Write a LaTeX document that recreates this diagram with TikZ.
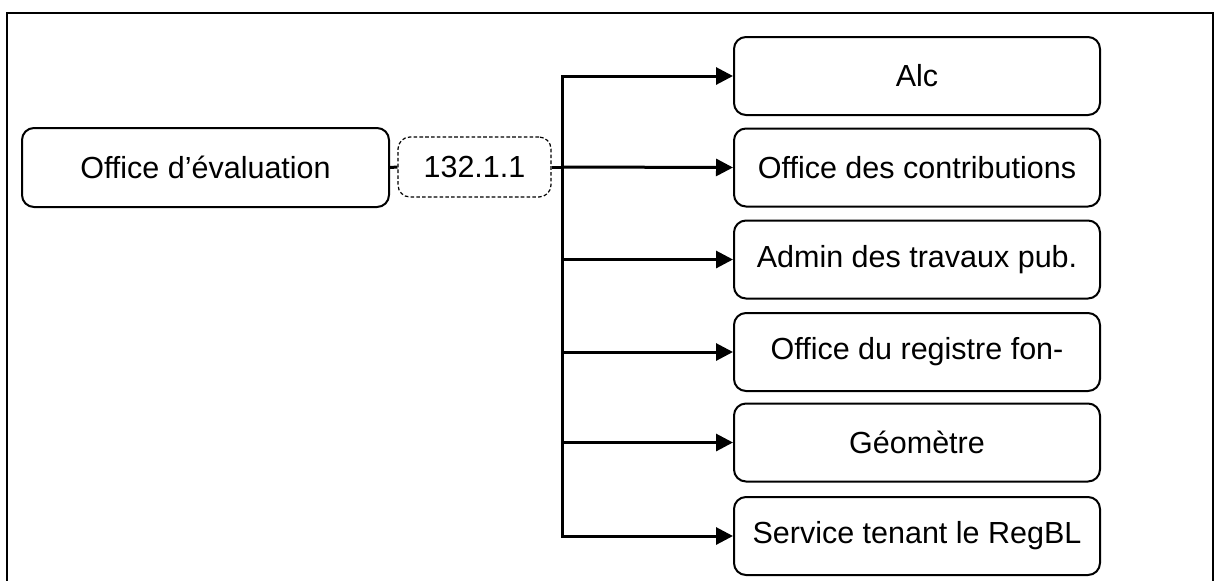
\documentclass[tikz,border=0pt]{standalone}
\usepackage{fontspec}
\setmainfont{Liberation Sans}
\usetikzlibrary{arrows.meta}
\tikzset{
  box/.style={draw, line width=1pt, rounded corners=6pt, minimum width=183pt,
    minimum height=39pt, inner sep=0pt, font=\fontsize{15.25}{18}\selectfont},
  numbox/.style={draw, line width=0.6pt, dash pattern=on 1.8pt off 1.1pt,
    rounded corners=6pt, minimum width=76.5pt, minimum height=30pt, inner sep=0pt,
    font=\fontsize{15.25}{18}\selectfont},
  link/.style={line width=1.5pt},
  arr/.style={line width=1.5pt, -{Triangle[length=8.5pt,width=8.5pt]}}
}
\begin{document}
\begin{tikzpicture}[x=0.5pt,y=-0.5pt]
    \clip (0,0) rectangle (1215,580);
    \fill[white] (0,0) rectangle (1215,580);
    \draw[line width=1pt] (7,600) -- (7,13) -- (1213,13) -- (1213,600);
    \node[box, minimum width=183.5pt, minimum height=39.5pt] (office) at (205.5,167.5) {Office d’évaluation};
    \node[numbox] (num) at (474.5,167) {132.1.1};
    \node[box] (alc) at (917,76) {Alc};
    \node[box] (contrib) at (917,167.5) {Office des contributions};
    \node[box] (admin) at (917,259.5) {Admin des travaux pub.};
    \node[box] (registre) at (917,352) {\raisebox{3pt}{Office du registre fon-}};
    \node[box] (geom) at (917,442.5) {Géomètre};
    \node[box] (regbl) at (917,536) {Service tenant le RegBL};
    \coordinate (trunk) at (562,167);
    \draw[link] (office.east) -- (num.west);
    \draw[link] (num.east) -- (trunk);
    \draw[link, line cap=rect] (trunk |- alc.west) -- (trunk |- regbl.west);
    \draw[arr] (trunk |- alc.west) -- (alc.west);
    \draw[arr] (trunk) -- (contrib.west);
    \draw[arr] (trunk |- admin.west) -- (admin.west);
    \draw[arr] (trunk |- registre.west) -- (registre.west);
    \draw[arr] (trunk |- geom.west) -- (geom.west);
    \draw[arr] (trunk |- regbl.west) -- (regbl.west);
  \end{tikzpicture}
\end{document}
